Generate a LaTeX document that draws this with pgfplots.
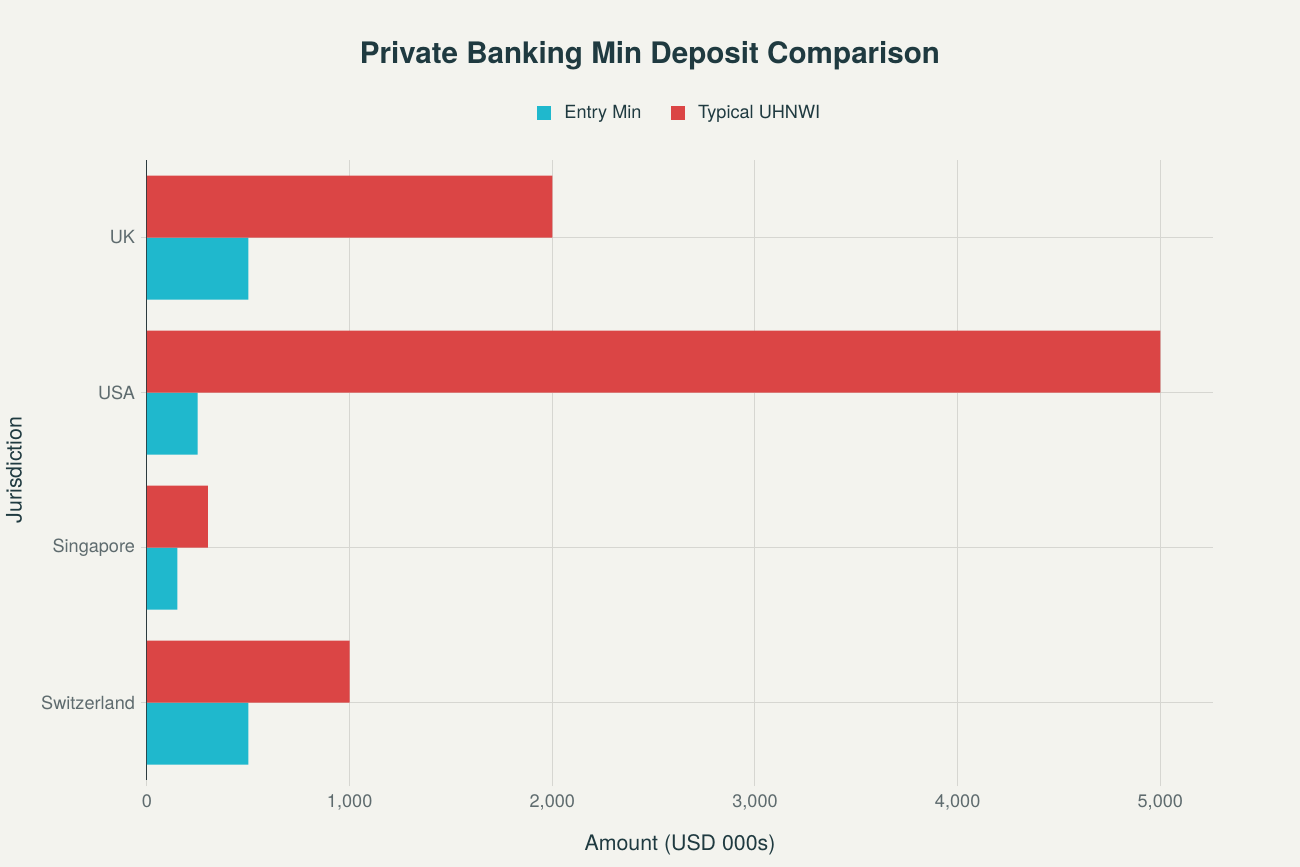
\documentclass[border=0pt]{standalone}
\usepackage{pgfplots}
\pgfplotsset{compat=1.18}
\usepackage{fontspec}
\setmainfont{TeX Gyre Heros}
\definecolor{bg}{HTML}{F3F3EE}
\definecolor{cblue}{HTML}{1FB8CD}
\definecolor{cred}{HTML}{DB4545}
\definecolor{titlec}{HTML}{1F3A40}
\definecolor{tickc}{HTML}{5E6B6E}
\definecolor{gridc}{HTML}{D6D6D1}
\definecolor{axisc}{HTML}{2B3A3E}
\begin{document}
\begin{tikzpicture}
\fill[bg] (0,0) rectangle (975pt,650.25pt);
\useasboundingbox (0,0) rectangle (975pt,650.25pt);
\node[font=\bfseries\fontsize{22.2}{26}\selectfont, text=titlec] at (487.5pt,608.25pt) {Private Banking Min Deposit Comparison};
\begin{axis}[
  at={(110.25pt,65.25pt)}, anchor=south west,
  scale only axis, width=799.5pt, height=465pt,
  xbar, bar width=46.5pt,
  xmin=0, xmax=5260, ymin=-0.5, ymax=3.5,
  y dir=reverse,
  axis y line*=left, axis x line*=bottom,
  x axis line style={draw=none},
  y axis line style={-, axisc, line width=0.75pt},
  ytick={0,1,2,3}, yticklabels={UK,USA,Singapore,Switzerland},
  xtick={0,1000,2000,3000,4000,5000},
  /pgf/number format/assume math mode=true,
  /pgf/number format/1000 sep={,},
  xmajorgrids, ymajorgrids,
  major grid style={gridc, line width=0.75pt},
  tick style={gridc, line width=0.75pt},
  tick align=outside, major tick length=4.5pt,
  ticklabel style={font=\fontsize{13.6}{16}\selectfont, text=tickc},
  xticklabel style={yshift=-3pt},
  yticklabel style={xshift=-1pt},
  xlabel={Amount (USD 000s)}, ylabel={Jurisdiction},
  label style={font=\fontsize{16}{19}\selectfont, text=titlec},
  xlabel style={at={(axis description cs:0.5,-0.105)}, anchor=center},
  ylabel style={at={(axis description cs:-0.1248,0.5)}, anchor=center},
  legend style={at={(0.5,1.076)}, anchor=center, draw=none, fill=none,
    legend columns=2, font=\fontsize{13.6}{16}\selectfont, text=titlec,
    /tikz/every even column/.append style={column sep=20pt},
    nodes={inner sep=2pt}},
  legend image code/.code={\fill[#1] (0pt,-5.25pt) rectangle (10.5pt,5.25pt);},
]
\addplot[fill=cblue, draw=none, bar shift=-23.25pt] coordinates {(500,0) (250,1) (150,2) (500,3)};
\addlegendentry{\hspace{8pt}Entry Min}
\addplot[fill=cred, draw=none, bar shift=23.25pt] coordinates {(2000,0) (5000,1) (300,2) (1000,3)};
\addlegendentry{\hspace{8pt}Typical UHNWI}
\end{axis}
\end{tikzpicture}
\end{document}
